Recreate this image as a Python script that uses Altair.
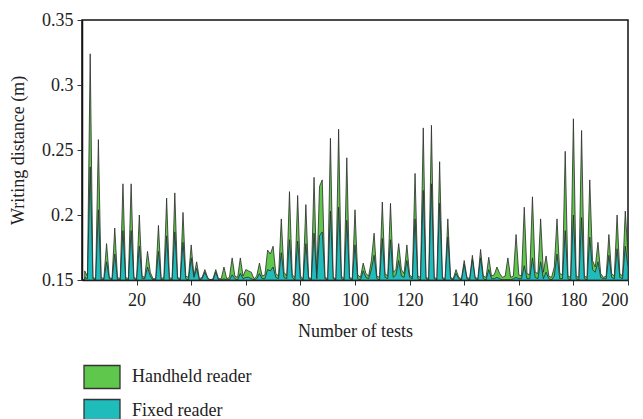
import altair as alt
import pandas as pd

tests = list(range(1, 201))

handheld = [
    0.157, 0.153, 0.324, 0.152, 0.151, 0.258, 0.152, 0.151, 0.178, 0.152,
    0.151, 0.190, 0.152, 0.151, 0.224, 0.152, 0.151, 0.224, 0.152, 0.151,
    0.200, 0.153, 0.152, 0.172, 0.156, 0.151, 0.151, 0.192, 0.151, 0.152,
    0.213, 0.152, 0.151, 0.217, 0.152, 0.151, 0.202, 0.153, 0.152, 0.177,
    0.153, 0.164, 0.151, 0.152, 0.158, 0.152, 0.150, 0.151, 0.158, 0.151,
    0.151, 0.160, 0.151, 0.152, 0.167, 0.153, 0.152, 0.167, 0.153, 0.158,
    0.157, 0.156, 0.151, 0.153, 0.163, 0.153, 0.154, 0.173, 0.170, 0.176,
    0.155, 0.153, 0.197, 0.156, 0.153, 0.218, 0.154, 0.152, 0.215, 0.153,
    0.151, 0.208, 0.152, 0.151, 0.229, 0.152, 0.222, 0.227, 0.152, 0.151,
    0.259, 0.152, 0.151, 0.266, 0.153, 0.151, 0.244, 0.152, 0.151, 0.204,
    0.154, 0.152, 0.163, 0.155, 0.153, 0.165, 0.186, 0.153, 0.152, 0.210,
    0.155, 0.153, 0.209, 0.156, 0.158, 0.178, 0.158, 0.155, 0.177, 0.154,
    0.152, 0.232, 0.153, 0.152, 0.267, 0.152, 0.151, 0.269, 0.152, 0.151,
    0.241, 0.152, 0.151, 0.197, 0.152, 0.151, 0.158, 0.152, 0.151, 0.165,
    0.152, 0.151, 0.169, 0.152, 0.151, 0.1735, 0.153, 0.152, 0.1675, 0.153,
    0.154, 0.160, 0.155, 0.152, 0.153, 0.167, 0.152, 0.153, 0.185, 0.154,
    0.153, 0.206, 0.155, 0.154, 0.214, 0.156, 0.155, 0.197, 0.156, 0.1685,
    0.153, 0.152, 0.160, 0.197, 0.155, 0.154, 0.249, 0.153, 0.152, 0.274,
    0.153, 0.152, 0.265, 0.153, 0.152, 0.227, 0.165, 0.160, 0.179, 0.155,
    0.152, 0.153, 0.185, 0.155, 0.153, 0.200, 0.155, 0.153, 0.203, 0.170,
]

fixed = [
    0.152, 0.151, 0.237, 0.151, 0.150, 0.204, 0.150, 0.150, 0.164, 0.151,
    0.150, 0.170, 0.150, 0.150, 0.188, 0.150, 0.150, 0.188, 0.151, 0.150,
    0.176, 0.151, 0.151, 0.160, 0.153, 0.150, 0.150, 0.172, 0.150, 0.150,
    0.184, 0.150, 0.150, 0.187, 0.151, 0.150, 0.179, 0.151, 0.150, 0.167,
    0.152, 0.159, 0.150, 0.151, 0.156, 0.151, 0.150, 0.150, 0.156, 0.150,
    0.150, 0.151, 0.150, 0.150, 0.154, 0.151, 0.150, 0.155, 0.151, 0.152,
    0.152, 0.151, 0.150, 0.151, 0.155, 0.151, 0.151, 0.158, 0.157, 0.160,
    0.152, 0.151, 0.171, 0.152, 0.151, 0.181, 0.152, 0.150, 0.180, 0.151,
    0.150, 0.178, 0.151, 0.150, 0.186, 0.151, 0.184, 0.187, 0.151, 0.150,
    0.203, 0.151, 0.150, 0.206, 0.151, 0.150, 0.196, 0.151, 0.150, 0.177,
    0.151, 0.150, 0.157, 0.152, 0.151, 0.158, 0.169, 0.151, 0.150, 0.182,
    0.152, 0.151, 0.181, 0.152, 0.154, 0.165, 0.153, 0.152, 0.165, 0.152,
    0.151, 0.197, 0.151, 0.150, 0.219, 0.151, 0.150, 0.224, 0.151, 0.150,
    0.209, 0.151, 0.150, 0.183, 0.151, 0.150, 0.155, 0.151, 0.150, 0.162,
    0.151, 0.150, 0.166, 0.151, 0.150, 0.167, 0.151, 0.150, 0.158, 0.151,
    0.151, 0.152, 0.151, 0.150, 0.150, 0.150, 0.150, 0.151, 0.152, 0.151,
    0.151, 0.161, 0.151, 0.151, 0.167, 0.152, 0.151, 0.164, 0.151, 0.156,
    0.151, 0.150, 0.153, 0.170, 0.151, 0.151, 0.188, 0.151, 0.150, 0.200,
    0.151, 0.150, 0.198, 0.151, 0.150, 0.183, 0.158, 0.156, 0.164, 0.152,
    0.151, 0.151, 0.169, 0.152, 0.151, 0.174, 0.152, 0.151, 0.176, 0.160,
]

series_names = ["Handheld reader", "Fixed reader"]
series_colors = ["#5fc84c", "#1fbcbc"]
x_ticks = [20, 40, 60, 80, 100, 120, 140, 160, 180, 200]
y_ticks = [0.15, 0.2, 0.25, 0.3, 0.35]

df = pd.DataFrame({
    "test": tests * 2,
    "value": handheld + fixed,
    "series": [series_names[0]] * len(tests) + [series_names[1]] * len(tests),
})

FONT = "Liberation Serif"

color = alt.Color(
    "series:N",
    scale=alt.Scale(domain=series_names, range=series_colors),
    legend=alt.Legend(
        title=None,
        orient="none",
        legendX=1,
        legendY=338,
        direction="vertical",
        symbolType="M-1,-0.64H1V0.64H-1Z",
        symbolSize=1296,
        symbolStrokeColor="#333333",
        symbolStrokeWidth=1.3,
        symbolOpacity=1,
        labelFont=FONT,
        labelFontSize=18,
        labelColor="#222222",
        labelOffset=11,
        rowPadding=-3,
        padding=0,
    ),
)

x = alt.X(
    "test:Q",
    scale=alt.Scale(domain=[0, 200], nice=False, zero=False),
    axis=alt.Axis(values=x_ticks, title="Number of tests", grid=False),
)
y = alt.Y(
    "value:Q",
    scale=alt.Scale(domain=[0.15, 0.35], nice=False, zero=False),
    stack=None,
    axis=alt.Axis(values=y_ticks, format=".2~f", title="Writing distance (m)", grid=False),
)

base = alt.Chart(df).mark_area(
    stroke="#2b2b2b", strokeWidth=0.8, opacity=1, interpolate="linear"
).encode(x=x, y=y, color=color)

green = base.transform_filter(alt.datum.series == series_names[0])
cyan = base.transform_filter(alt.datum.series == series_names[1])

chart = alt.layer(green, cyan).properties(
    width=546,
    height=260,
    autosize=alt.AutoSizeParams(type="none"),
    padding={"left": 74, "top": 12, "right": 7, "bottom": 150},
).configure_view(
    stroke="#111111", strokeWidth=1.5
).configure_axis(
    domainColor="#111111",
    domainWidth=1.5,
    tickColor="#333333",
    tickSize=5,
    tickWidth=1,
    labelFont=FONT,
    labelFontSize=18,
    labelColor="#222222",
    titleFont=FONT,
    titleFontSize=18,
    titleFontWeight="normal",
    titleColor="#222222",
).configure_axisX(
    labelPadding=6,
    titlePadding=13,
).configure_axisY(
    labelPadding=4,
    titlePadding=14,
)

chart.save("out.html", embed_options={"renderer": "svg", "actions": False})
